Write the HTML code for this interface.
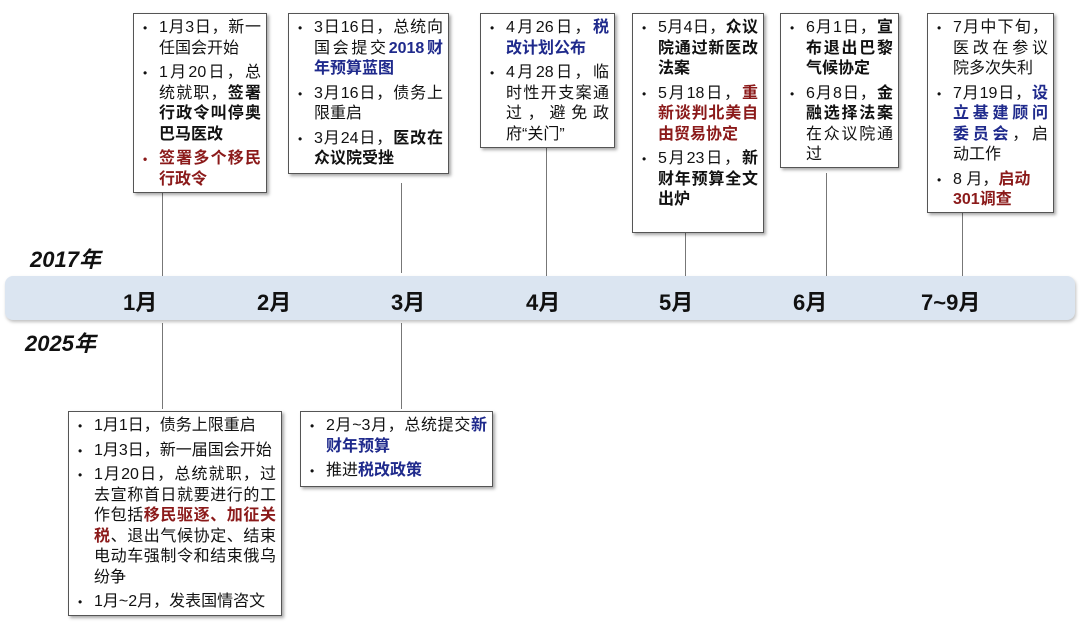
<!DOCTYPE html>
<html><head><meta charset="utf-8"><style>
body{margin:0;width:1080px;height:628px;background:#fff;position:relative;overflow:hidden;font-family:"Liberation Sans","Noto Sans CJK SC",sans-serif;color:#111}
.box{position:absolute;border:1px solid #555;background:#fff;box-shadow:2px 2px 3px rgba(0,0,0,.35);box-sizing:border-box;padding:4px 5px 4px 8px;font-size:16px;line-height:20.5px}
.box ul{margin:0;padding:0;list-style:none}
.box li{position:relative;padding-left:17px;margin-bottom:4px;text-align:justify;word-break:break-all}
.box li:before{content:"•";position:absolute;left:1px;top:0;font-size:12px}
.b{font-weight:bold}.blue{color:#1f2a8c;font-weight:bold}.red{color:#8b1a1a;font-weight:bold}
.v{position:absolute;width:1px;background:#777}
.bar{position:absolute;left:5px;top:276px;width:1070px;height:44px;background:#dbe5f1;border-radius:8px;box-shadow:1px 2px 3px rgba(0,0,0,.25)}
.m{position:absolute;top:285px;font-size:22px;font-weight:bold;color:#111}
.yr{position:absolute;font-size:22px;font-weight:bold;font-style:italic}
</style></head><body>
<div class="v" style="left:162px;top:192px;height:84px"></div>
<div class="v" style="left:401px;top:183px;height:90px"></div>
<div class="v" style="left:546px;top:147px;height:129px"></div>
<div class="v" style="left:685px;top:232px;height:44px"></div>
<div class="v" style="left:826px;top:173px;height:103px"></div>
<div class="v" style="left:962px;top:212px;height:64px"></div>
<div class="v" style="left:162px;top:323px;height:86px"></div>
<div class="v" style="left:401px;top:323px;height:86px"></div>
<div class="bar"></div>
<div class="m" style="left:123px">1月</div>
<div class="m" style="left:257px">2月</div>
<div class="m" style="left:391px">3月</div>
<div class="m" style="left:526px">4月</div>
<div class="m" style="left:659px">5月</div>
<div class="m" style="left:793px">6月</div>
<div class="m" style="left:921px">7~9月</div>
<div class="yr" style="left:30px;top:242px">2017年</div>
<div class="yr" style="left:25px;top:326px">2025年</div>

<div class="box" style="left:133px;top:13px;width:134px;height:180px"><ul>
<li>1月3日，新一任国会开始</li>
<li>1月20日，总统就职，<span class="b">签署行政令叫停奥巴马医改</span></li>
<li class="red" style="color:#8b1a1a">签署多个移民行政令</li></ul></div>
<div class="box" style="left:288px;top:13px;width:161px;height:161px"><ul>
<li>3日16日，总统向国会提交<span class="blue">2018财年预算蓝图</span></li>
<li>3月16日，债务上限重启</li>
<li>3月24日，<span class="b">医改在众议院受挫</span></li></ul></div>
<div class="box" style="left:480px;top:13px;width:135px;height:135px"><ul>
<li>4月26日，<span class="blue">税改计划公布</span></li>
<li>4月28日，临时性开支案通过，避免政府“关门”</li></ul></div>
<div class="box" style="left:632px;top:13px;width:132px;height:220px"><ul>
<li>5月4日，<span class="b">众议院通过新医改法案</span></li>
<li>5月18日，<span class="red">重新谈判北美自由贸易协定</span></li>
<li>5月23日，<span class="b">新财年预算全文出炉</span></li></ul></div>
<div class="box" style="left:780px;top:13px;width:119px;height:155px"><ul>
<li>6月1日，<span class="b">宣布退出巴黎气候协定</span></li>
<li>6月8日，<span class="b">金融选择法案</span>在众议院通过</li></ul></div>
<div class="box" style="left:927px;top:13px;width:127px;height:200px"><ul>
<li>7月中下旬，医改在参议院多次失利</li>
<li>7月19日，<span class="blue">设立基建顾问委员会</span>，启动工作</li>
<li>8 月，<span class="red">启动<br>301调查</span></li></ul></div>
<div class="box" style="left:68px;top:411px;width:214px;height:205px"><ul>
<li>1月1日，债务上限重启</li>
<li>1月3日，新一届国会开始</li>
<li>1月20日，总统就职，过去宣称首日就要进行的工作包括<span class="red">移民驱逐、加征关税</span>、退出气候协定、结束电动车强制令和结束俄乌纷争</li>
<li>1月~2月，发表国情咨文</li></ul></div>
<div class="box" style="left:300px;top:411px;width:193px;height:76px"><ul>
<li>2月~3月，总统提交<span class="blue">新财年预算</span></li>
<li>推进<span class="blue">税改政策</span></li></ul></div>
</body></html>
